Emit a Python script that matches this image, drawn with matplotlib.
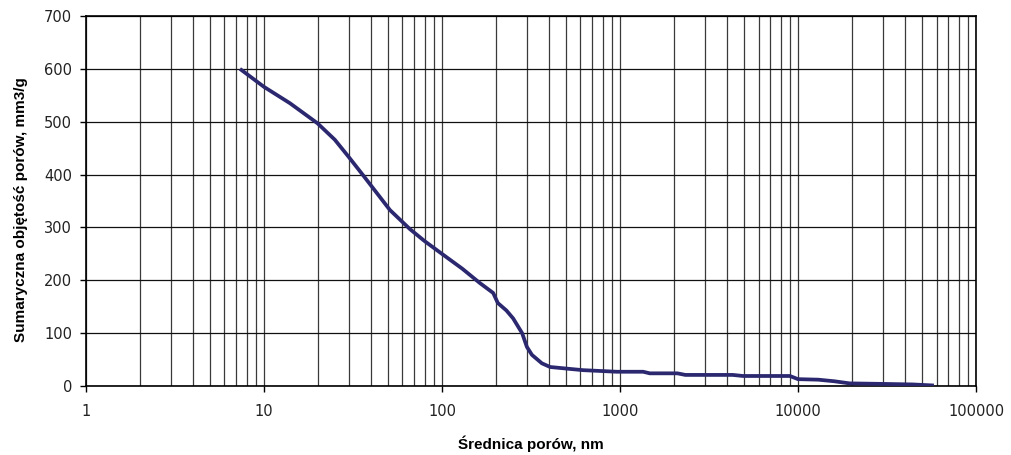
import matplotlib
matplotlib.use("Agg")
import matplotlib.pyplot as plt
from matplotlib.ticker import FixedLocator, NullFormatter, NullLocator

# pore diameter, nm
diameter = [7.33, 10, 14, 20, 25, 30, 36, 44, 51, 66, 80, 100, 130, 163, 194, 206,
            230, 251, 282, 300, 320, 364, 405, 500, 620, 960, 1350, 1470, 2100, 2330,
            4300, 4900, 9000, 10000, 13000, 16000, 19500, 30000, 44000, 58000]
# cumulative pore volume, mm3/g
volume = [600, 566, 535, 497, 466, 433, 399, 361, 333, 297, 274, 250, 222, 195, 176, 157,
          143, 128, 100, 74, 59, 43, 36, 33, 30, 27, 27, 24, 24, 21,
          21, 19, 19, 13, 12, 9, 5, 4, 3, 1]

xticks = [1, 10, 100, 1000, 10000, 100000]
xticklabels = ["1", "10", "100", "1000", "10000", "100000"]
yticks = [0, 100, 200, 300, 400, 500, 600, 700]

fig = plt.figure(figsize=(10.11, 4.55), dpi=100)
ax = fig.add_axes([0.085, 0.1516, 0.8804, 0.8132])
ax.set_xscale("log")
ax.set_xlim(1, 100000)
ax.set_ylim(0, 700)

# grid
minor = [m * 10 ** e for e in range(0, 5) for m in range(2, 10)]
for v in minor + xticks:
    ax.axvline(v, color="#3a3a3a", lw=0.9, zorder=1)
for v in yticks:
    ax.axhline(v, color="#111111", lw=0.9, zorder=1)

ax.plot(diameter, volume, color="#2b2870", lw=2.7, zorder=3, solid_capstyle="butt")

ax.xaxis.set_major_locator(FixedLocator(xticks))
ax.set_xticklabels(xticklabels)
ax.xaxis.set_minor_locator(NullLocator())
ax.xaxis.set_minor_formatter(NullFormatter())
ax.set_yticks(yticks)
ax.tick_params(axis="both", direction="out", length=4, width=1, colors="black",
               labelsize=10.5, labelcolor="#222222")
ax.tick_params(axis="x", pad=9)
ax.tick_params(axis="y", pad=6)

for s in ax.spines.values():
    s.set_color("black")
    s.set_linewidth(1.2)

lab_font = ["Liberation Sans Narrow", "Liberation Sans", "DejaVu Sans"]
ax.set_xlabel("Średnica porów, nm", fontsize=11, fontweight="bold", family=lab_font)
ax.set_ylabel("Sumaryczna objętość porów, mm3/g", fontsize=11, fontweight="bold", family=lab_font)
ax.xaxis.set_label_coords(0.5, -0.135)
ax.yaxis.set_label_coords(-0.065, 0.476)

fig.savefig("out.png", dpi=100)
